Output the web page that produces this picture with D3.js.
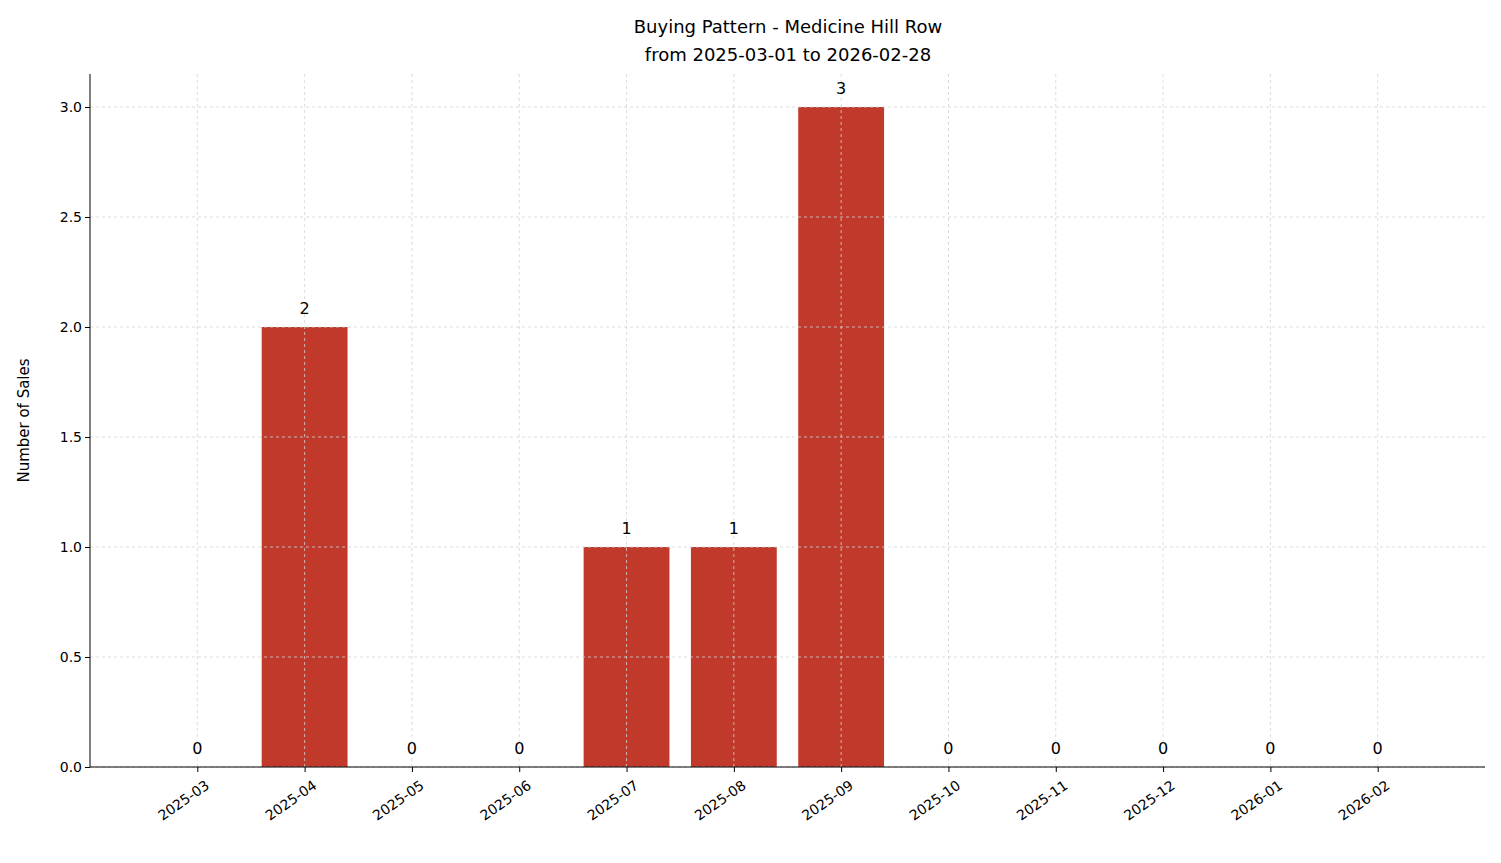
<!DOCTYPE html>
<html><head><meta charset="utf-8">
<script src="https://cdn.jsdelivr.net/npm/d3@7"></script>
<style>body{margin:0;background:#fff;font-family:"DejaVu Sans",sans-serif}</style>
</head><body><svg id="chart" width="1501" height="863"></svg>
<script>
const months = ['2025-03','2025-04','2025-05','2025-06','2025-07','2025-08','2025-09','2025-10','2025-11','2025-12','2026-01','2026-02'];
const sales = [0, 2, 0, 0, 1, 1, 3, 0, 0, 0, 0, 0];
const yTicks = [0, 0.5, 1, 1.5, 2, 2.5, 3];

const svg = d3.select('#chart');
const m = { left: 90, right: 1485, top: 74, bottom: 767 };
const x = d3.scaleLinear().domain([-1, 12]).range([m.left, m.right]);
const y = d3.scaleLinear().domain([0, 3.15]).range([m.bottom, m.top]);
const bw = x(0.8) - x(0);

const grid = svg.append('g').attr('stroke', '#d3d3d3').attr('stroke-dasharray', '3,3').attr('stroke-width', 0.8);
grid.selectAll('line.v').data(months).join('line').attr('x1', (d, i) => x(i)).attr('x2', (d, i) => x(i)).attr('y1', m.top).attr('y2', m.bottom);
grid.selectAll('line.h').data(yTicks).join('line').attr('x1', m.left).attr('x2', m.right).attr('y1', d => y(d)).attr('y2', d => y(d));

svg.append('g').selectAll('rect').data(sales).join('rect')
  .attr('x', (d, i) => x(i) - bw / 2).attr('width', bw)
  .attr('y', d => y(d)).attr('height', d => y(0) - y(d)).attr('fill', '#c0392b');
// re-draw grid over bars (matplotlib draws grid above here)
svg.node().appendChild(grid.node());

svg.append('g').selectAll('text').data(sales).join('text')
  .attr('x', (d, i) => x(i)).attr('y', d => y(d) - 13).attr('text-anchor', 'middle')
  .attr('font-size', 16).text(d => d);

const xa = svg.append('g').attr('transform', `translate(0,${m.bottom})`)
  .call(d3.axisBottom(x).tickValues(d3.range(months.length)).tickFormat(i => months[i]).tickSizeOuter(0).tickSize(5));
xa.select('.domain').attr('d', `M${m.left},0H${m.right}`);
xa.selectAll('text').attr('font-size', 14).attr('font-family', 'DejaVu Sans').attr('fill', '#000')
  .attr('text-anchor', 'end').attr('dx', 0).attr('dy', 0)
  .attr('transform', 'translate(8,14) rotate(-35)');

const ya = svg.append('g').attr('transform', `translate(${m.left},0)`)
  .call(d3.axisLeft(y).tickValues(yTicks).tickFormat(d3.format('.1f')).tickSizeOuter(0).tickSize(5));
ya.select('.domain').attr('d', `M0,${m.bottom}V${m.top}`);
ya.selectAll('text').attr('font-size', 14).attr('font-family', 'DejaVu Sans').attr('fill', '#000');

svg.append('text').attr('transform', `translate(29,${(m.top + m.bottom) / 2}) rotate(-90)`)
  .attr('text-anchor', 'middle').attr('font-size', 15).text('Number of Sales');
svg.append('text').attr('x', 788).attr('y', 33).attr('text-anchor', 'middle').attr('font-size', 18).text('Buying Pattern - Medicine Hill Row');
svg.append('text').attr('x', 788).attr('y', 61).attr('text-anchor', 'middle').attr('font-size', 18).text('from 2025-03-01 to 2026-02-28');
</script></body></html>
